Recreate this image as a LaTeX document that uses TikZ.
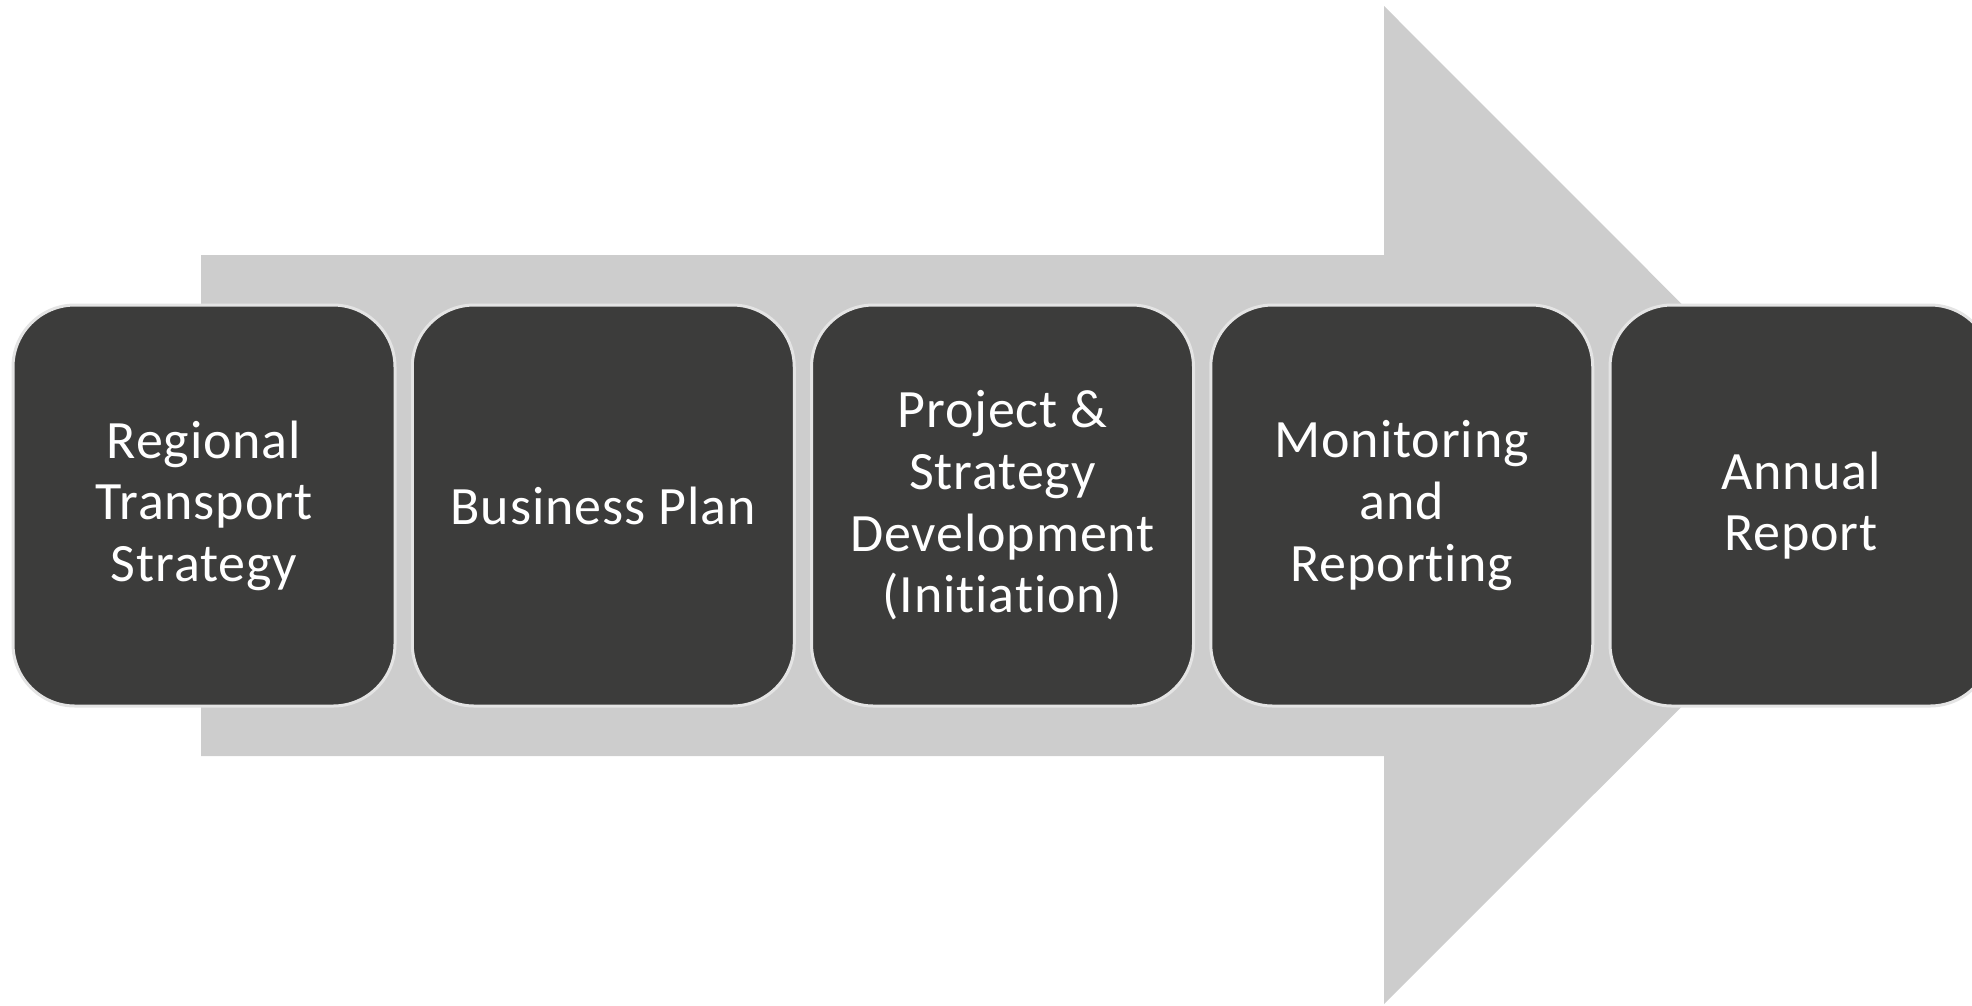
\documentclass[tikz,border=0pt]{standalone}
\usepackage{fontspec}
\setmainfont{Carlito}[LetterSpace=1.6,Ligatures=NoCommon]
\definecolor{arrowgray}{HTML}{CDCDCD}
\definecolor{boxfill}{HTML}{3C3C3B}
\definecolor{boxedge}{HTML}{E4E4E4}
\begin{document}
\begin{tikzpicture}[x=1pt,y=-1pt,
  stage/.style={draw=boxedge, line width=3pt, fill=boxfill, rounded corners=62pt,
    minimum width=382pt, minimum height=401pt, inner sep=0pt,
    text=white, align=center, font=\fontsize{54}{61.6}\selectfont}]
\useasboundingbox (0,0) rectangle (1972,1005);
\clip (0,0) rectangle (1972,1005);
\fill[arrowgray] (201,255) -- (1384,255) -- (1384,6) -- (1883,505.5) -- (1384,1004) -- (1384,756) -- (201,756) -- cycle;
\node[stage] (rts) at (204,505.5) {Regional\\Transport\\Strategy};
\node[stage] (bp) at (603.25,505.5) {Business Plan};
\node[stage] (psd) at (1002.5,505.5) {Project \&\\Strategy\\Development\\(Initiation)};
\node[stage] (mr) at (1401.75,505.5) {Monitoring\\and\\Reporting};
\node[stage] (ar) at (1801,505.5) {Annual\\Report};
\end{tikzpicture}
\end{document}
